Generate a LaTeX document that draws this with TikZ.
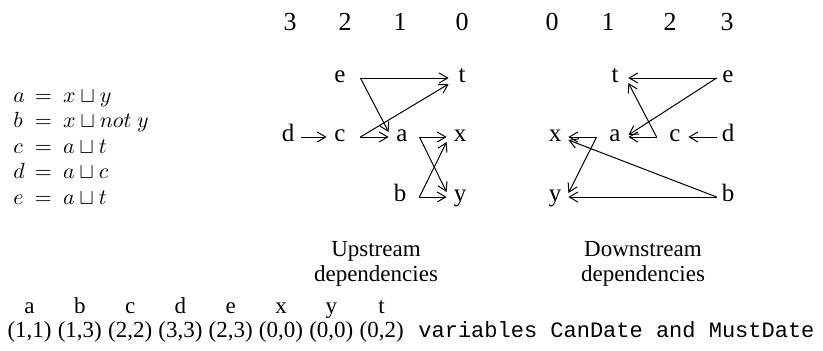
\documentclass[tikz,border=0pt]{standalone}
\usepackage{fontspec}
\setmainfont{Liberation Serif}
\setmonofont{Liberation Mono}
\usetikzlibrary{arrows.meta}
\begin{document}
\begin{tikzpicture}[x=0.5pt,y=-0.5pt,
 lab/.style={inner sep=0pt, minimum width=13pt, anchor=mid, font=\fontsize{12.5}{14}\selectfont},
 hdr/.style={inner sep=0pt, anchor=base, font=\fontsize{13}{15}\selectfont},
 arr/.style={line width=0.5pt, -{Straight Barb[length=4.2pt,width=5pt]}},
 captxt/.style={inner sep=0pt, anchor=base, align=center, font=\fontsize{11.5}{12.5}\selectfont},
 txt/.style={inner sep=0pt, anchor=base west, font=\fontsize{11.5}{13}\selectfont}
]
\useasboundingbox (0,0) rectangle (823,350);

% equations
\node[inner sep=0pt, anchor=base west, font=\fontsize{11}{12.75}\selectfont] (eqs) at (13,102)
 {\begin{tabular}[t]{@{}l@{\hspace{5pt}}c@{\hspace{5.5pt}}l@{}}
 $a$ & $=$ & $x\sqcup y$\\
 $b$ & $=$ & $x\sqcup not\ y$\\
 $c$ & $=$ & $a\sqcup t$\\
 $d$ & $=$ & $a\sqcup c$\\
 $e$ & $=$ & $a\sqcup t$
 \end{tabular}};

% upstream headers
\node[hdr] (h3u) at (290,30) {3};
\node[hdr] (h2u) at (345,30) {2};
\node[hdr] (h1u) at (400,30) {1};
\node[hdr] (h0u) at (462,30) {0};

% downstream headers
\node[hdr] (h0d) at (552,30) {0};
\node[hdr] (h1d) at (608,30) {1};
\node[hdr] (h2d) at (670,30) {2};
\node[hdr] (h3d) at (727,30) {3};

% upstream graph
\node[lab] (ue) at (340,78) {e};
\node[lab] (ut) at (462,78) {t};
\node[lab] (ud) at (288,137) {d};
\node[lab] (uc) at (340,137) {c};
\node[lab] (ua) at (402,137) {a};
\node[lab] (ux) at (460,137) {x};
\node[lab] (ub) at (400,197) {b};
\node[lab] (uy) at (460,197) {y};

\draw[arr] ([xshift=3.5pt]ue.mid east) -- (ut.mid west);
\draw[arr] ([xshift=3.5pt]ue.mid east) -- ([yshift=2.5pt]ua.mid west);
\draw[arr] ([xshift=3.5pt]uc.mid east) -- ([yshift=-3pt]ut.mid west);
\draw[arr] ([xshift=3.5pt]uc.mid east) -- (ua.mid west);
\draw[arr] (ud.mid east) -- (uc.mid west);
\draw[arr] ([xshift=2pt]ua.mid east) -- (ux.mid west);
\draw[arr] ([xshift=2pt]ua.mid east) -- ([yshift=2.5pt]uy.mid west);
\draw[arr] ([xshift=3pt]ub.mid east) -- ([yshift=-2.5pt]ux.mid west);
\draw[arr] ([xshift=3pt]ub.mid east) -- (uy.mid west);

% downstream graph
\node[lab] (dt) at (615,78) {t};
\node[lab] (de) at (728,78) {e};
\node[lab] (dx) at (555,137) {x};
\node[lab] (da) at (615,137) {a};
\node[lab] (dc) at (675,137) {c};
\node[lab] (dd) at (728,137) {d};
\node[lab] (dy) at (555,197) {y};
\node[lab] (db) at (728,197) {b};

\draw[arr] ([xshift=1pt]de.mid west) -- (dt.mid east);
\draw[arr] ([xshift=1pt]de.mid west) -- ([yshift=1pt]da.mid east);
\draw[arr] ([xshift=-2.5pt]dc.mid west) -- (da.mid east);
\draw[arr] ([xshift=-2.5pt]dc.mid west) -- ([yshift=-2.5pt]dt.mid east);
\draw[arr] ([xshift=1pt]dd.mid west) -- (dc.mid east);
\draw[arr] ([xshift=-2.5pt]da.mid west) -- (dx.mid east);
\draw[arr] ([xshift=-2.5pt]da.mid west) -- ([yshift=2pt]dy.mid east);
\draw[arr] ([xshift=1pt]db.mid west) -- ([yshift=-1.5pt]dx.mid east);
\draw[arr] ([xshift=1pt]db.mid west) -- (dy.mid east);

% captions (anchor = baseline of last line)
\node[captxt] (capu) at (376,281) {Upstream\\dependencies};
\node[captxt] (capd) at (643,281) {Downstream\\dependencies};

% bottom rows
\node[txt] (names) at (4,313) {\makebox[25.15pt]{a}\makebox[25.15pt]{b}\makebox[25.15pt]{c}\makebox[25.15pt]{d}\makebox[25.15pt]{e}\makebox[25.15pt]{x}\makebox[25.15pt]{y}\makebox[25.15pt]{t}};
\node[txt] (vals) at (4,337) {\makebox[25.15pt]{(1,1)}\makebox[25.15pt]{(1,3)}\makebox[25.15pt]{(2,2)}\makebox[25.15pt]{(3,3)}\makebox[25.15pt]{(2,3)}\makebox[25.15pt]{(0,0)}\makebox[25.15pt]{(0,0)}\makebox[25.15pt]{(0,2)}};
\node[inner sep=0pt, anchor=base west, font=\fontsize{11}{13}\ttfamily] (vars) at (418,337) {variables CanDate and MustDate};
\end{tikzpicture}
\end{document}
